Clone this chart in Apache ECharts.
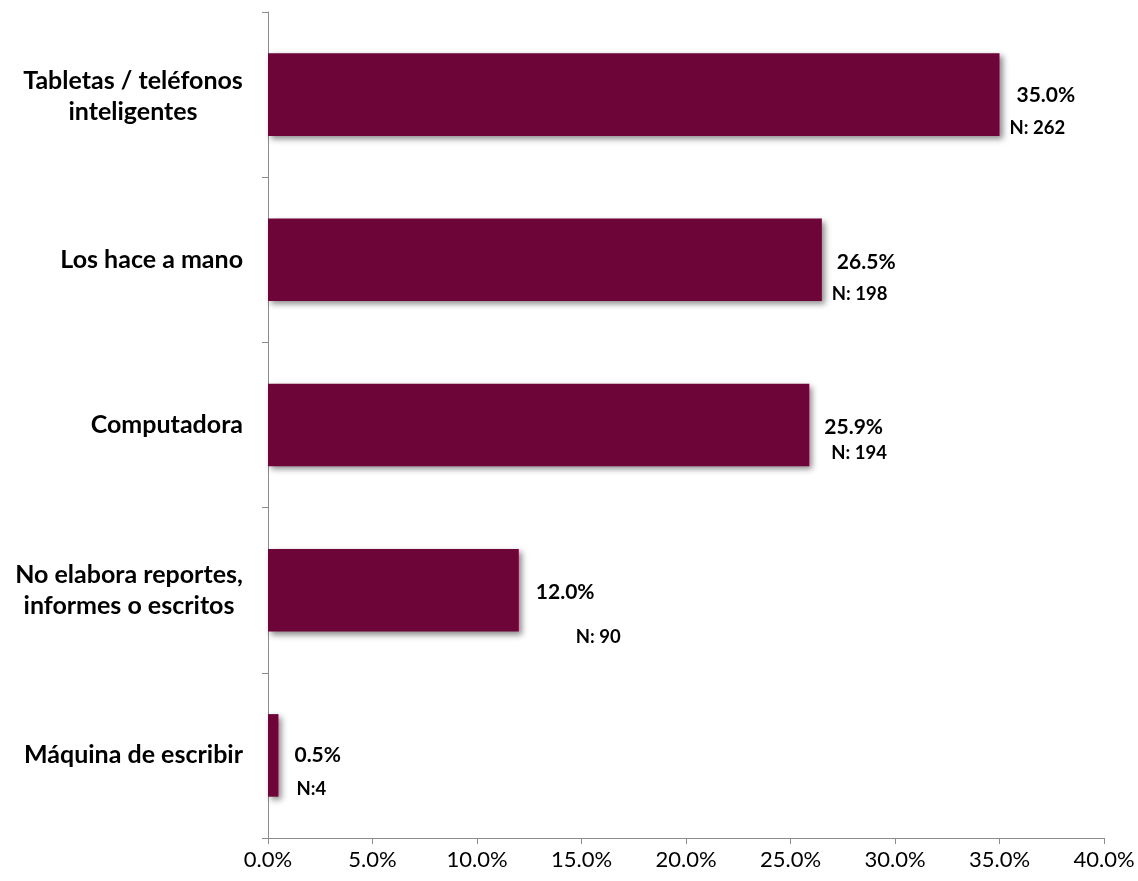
<!DOCTYPE html>
<html>
<head>
<meta charset="utf-8">
<script src="https://cdn.jsdelivr.net/npm/echarts@6/dist/echarts.min.js"></script>
<style>
html,body{margin:0;padding:0;background:#fff;}
#chart{width:1138px;height:881px;}
</style>
</head>
<body>
<div id="chart"></div>
<script>
// Data (top to bottom as displayed)
const categories = [
  "Tabletas / teléfonos\ninteligentes",
  "Los hace a mano",
  "Computadora",
  "No elabora reportes,\ninformes o escritos",
  "Máquina de escribir"
];
const percentValues = [35.0, 26.5, 25.9, 12.0, 0.5];
const countLabels = ["N: 262", "N: 198", "N: 194", "N: 90", "N:4"];
const xTickValues = [0, 5, 10, 15, 20, 25, 30, 35, 40];

// label placement tweaks (style only, px): gap from bar end for % line and N line,
// vertical offset of % line from bar centre, vertical gap between the two lines
const pGapX = [17, 15, 15, 17, 16];
const nGapX = [10, 10, 22, 57, 18];
const pDy = [1, 2, 2, 2, 0];
const nDy = [32, 32, 26, 45, 34];

const FONT = "Lato, 'Open Sans', sans-serif";
const BAR = "#6e0538";
const CAT_SIZE = 25;

// ECharts category axis draws first category at bottom, so reverse
const rev = a => a.slice().reverse();
const catRev = rev(categories);
const valRev = rev(percentValues);
const nRev = rev(countLabels);
const pgx = rev(pGapX), ngx = rev(nGapX), pdy = rev(pDy), ndy = rev(nDy);

const seriesData = valRev.map((v, i) => {
  const d = Math.min(pgx[i], ngx[i]);
  const Ln = 2 * (ndy[i] - 15);
  return {
    value: v,
    label: {
      distance: d,
      offset: [0, pdy[i] + Ln / 2],
      formatter: '{p|' + v.toFixed(1) + '%}\n{n|' + nRev[i] + '}',
      rich: {
        p: { fontFamily: FONT, fontWeight: 'bold', fontSize: 21, color: '#000', lineHeight: 30, padding: [0, 0, 0, pgx[i] - d] },
        n: { fontFamily: FONT, fontWeight: 'bold', fontSize: 18.5, color: '#000', lineHeight: Ln, padding: [0, 0, 0, ngx[i] - d] }
      }
    }
  };
});

// measure text width for centring wrapped category lines
const mctx = document.createElement('canvas').getContext('2d');
mctx.font = 'bold ' + CAT_SIZE + 'px ' + FONT;
const textW = s => Math.ceil(mctx.measureText(s).width);

const chart = echarts.init(document.getElementById('chart'), null, { renderer: 'canvas' });
chart.setOption({
  animation: false,
  backgroundColor: '#fff',
  grid: { left: 268, right: 34, top: 12, bottom: 43, containLabel: false },
  xAxis: {
    type: 'value',
    min: xTickValues[0],
    max: xTickValues[xTickValues.length - 1],
    interval: xTickValues[1] - xTickValues[0],
    axisLine: { show: true, lineStyle: { color: '#8c8c8c', width: 1 } },
    axisTick: { show: true, length: 6, lineStyle: { color: '#8c8c8c' } },
    splitLine: { show: false },
    axisLabel: {
      formatter: v => v.toFixed(1) + '%',
      fontFamily: FONT, fontSize: 22, color: '#000', margin: 11
    }
  },
  yAxis: {
    type: 'category',
    data: catRev,
    axisLine: { show: true, lineStyle: { color: '#8c8c8c', width: 1 } },
    axisTick: { show: true, length: 6, lineStyle: { color: '#8c8c8c' } },
    axisLabel: {
      margin: 25,
      align: 'right',
      formatter: function (val) {
        const lines = val.split('\n');
        if (lines.length === 1) return '{s|' + val + '}';
        const w = Math.max.apply(null, lines.map(textW));
        const key = w > 222 ? 'w' : 'c';
        return lines.map(l => '{' + key + '|' + l + '}').join('\n');
      },
      rich: {
        s: { fontFamily: FONT, fontWeight: 'bold', fontSize: CAT_SIZE, color: '#000', lineHeight: 31 },
        c: { fontFamily: FONT, fontWeight: 'bold', fontSize: CAT_SIZE, color: '#000', lineHeight: 31, width: textW('Tabletas / teléfonos'), align: 'center', padding: [3, 0, 0, 0] },
        w: { fontFamily: FONT, fontWeight: 'bold', fontSize: CAT_SIZE, color: '#000', lineHeight: 31, width: textW('No elabora reportes,'), align: 'center' }
      }
    }
  },
  series: [{
    type: 'bar',
    data: seriesData,
    barCategoryGap: '50%',
    itemStyle: {
      color: BAR,
      shadowColor: 'rgba(0,0,0,0.45)',
      shadowBlur: 6,
      shadowOffsetX: 3,
      shadowOffsetY: 3
    },
    label: {
      show: true,
      position: 'right',
      align: 'left'
    }
  }]
});
</script>
</body>
</html>
